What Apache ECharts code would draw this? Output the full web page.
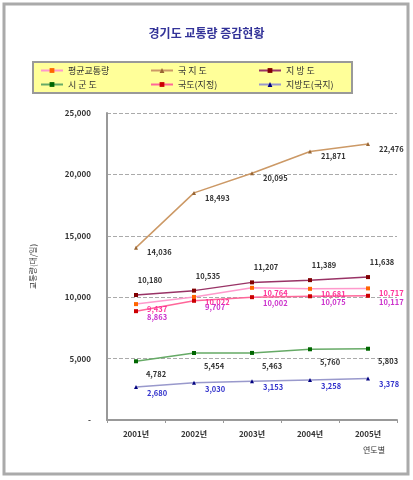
<!DOCTYPE html>
<html>
<head>
<meta charset="utf-8">
<script src="https://cdn.jsdelivr.net/npm/echarts@6/dist/echarts.min.js"></script>
<style>
  html, body { margin: 0; padding: 0; background: #fff; }
  #main { width: 413px; height: 480px; }
</style>
</head>
<body>
<div id="main"></div>
<script>
// 데이터
var years = ['2001년', '2002년', '2003년', '2004년', '2005년'];
var avgTraffic = [9437, 10022, 10764, 10681, 10717];   // 평균교통량
var gukjido = [14036, 18493, 20095, 21871, 22476];     // 국지도
var jibangdo = [10180, 10535, 11207, 11389, 11638];    // 지방도
var sigundo = [4782, 5454, 5463, 5760, 5803];          // 시군도
var gukdo = [8863, 9707, 10002, 10075, 10117];         // 국도(지정)
var jibangGukji = [2680, 3030, 3153, 3258, 3378];      // 지방도(국지)
var seriesNames = ['평균교통량', '국 지 도', '지 방 도', '시 군 도', '국도(지정)', '지방도(국지)'];

var font = '"Noto Sans CJK KR", "Noto Sans", sans-serif';
var myChart = echarts.init(document.getElementById('main'));

function fmt(v) {
  return v.toLocaleString('en-US');
}

function makeLine(name, data, lineColor, markColor, symbol, labelColor, labelPos, labelOffset) {
  return {
    name: name,
    type: 'line',
    data: data,
    symbol: symbol,
    symbolSize: 4,
    lineStyle: { color: lineColor, width: 1.5 },
    itemStyle: { color: markColor },
    label: {
      show: true,
      position: labelPos,
      offset: labelOffset,
      color: labelColor,
      fontSize: 7.5,
      fontFamily: font,
      fontWeight: 'bold',
      formatter: function (p) { return fmt(p.value); }
    }
  };
}

// 범례 위치 (3열 x 2행)
var legendPos = [[40, 66], [150, 66], [258, 66], [40, 80], [150, 80], [258, 80]];
var legends = seriesNames.map(function (n, i) {
  return {
    data: [n],
    left: legendPos[i][0],
    top: legendPos[i][1],
    itemWidth: 22,
    itemHeight: 6,
    padding: 0,
    selectedMode: false,
    textStyle: { fontSize: 9, fontFamily: font, color: '#333' }
  };
});

var option = {
  backgroundColor: '#fff',
  animation: false,
  title: {
    text: '경기도 교통량 증감현황',
    left: 'center',
    top: 22,
    textStyle: { color: '#333399', fontSize: 12, fontWeight: 'bold', fontFamily: font }
  },
  graphic: [
    { type: 'rect', shape: { x: 4, y: 4, width: 404, height: 470 },
      style: { fill: 'none', stroke: '#aaaaaa', lineWidth: 3 }, z: -10 },
    { type: 'rect', shape: { x: 33, y: 62, width: 319, height: 31 },
      style: { fill: '#ffff99', stroke: '#999999', lineWidth: 2 }, z: -5 }
  ],
  legend: legends,
  grid: { left: 107, right: 16, top: 113, bottom: 60 },
  xAxis: {
    type: 'category',
    data: years,
    boundaryGap: true,
    name: '연도별',
    nameLocation: 'end',
    nameGap: -12,
    nameTextStyle: {
      fontSize: 8, fontFamily: font, color: '#333',
      align: 'right', verticalAlign: 'top', padding: [26, 0, 0, 0]
    },
    axisLine: { lineStyle: { color: '#999', width: 2 } },
    axisTick: { show: true, length: 3, lineStyle: { color: '#999' } },
    axisLabel: { fontSize: 8, fontWeight: 'bold', fontFamily: font, color: '#333', margin: 10 }
  },
  yAxis: {
    type: 'value',
    min: 0,
    max: 25000,
    interval: 5000,
    name: '교통량(대/일)',
    nameLocation: 'middle',
    nameRotate: 90,
    nameGap: 70,
    nameTextStyle: { fontSize: 8, fontFamily: font, color: '#333' },
    axisLine: { show: true, lineStyle: { color: '#999', width: 2 } },
    axisTick: { show: false },
    splitLine: { show: true, lineStyle: { color: '#aaa', type: 'dashed' } },
    axisLabel: {
      fontSize: 8, fontWeight: 'bold', fontFamily: font, color: '#333', margin: 16,
      formatter: function (v) { return v === 0 ? '-' : fmt(v); }
    }
  },
  series: [
    makeLine(seriesNames[0], avgTraffic, '#ff99cc', '#ff6600', 'rect', '#ff3399', 'right', [4, 5]),
    makeLine(seriesNames[1], gukjido, '#cc9966', '#996633', 'triangle', '#333', 'right', [4, 5]),
    makeLine(seriesNames[2], jibangdo, '#993366', '#800000', 'rect', '#333', 'top', [14, -4]),
    makeLine(seriesNames[3], sigundo, '#66aa66', '#006600', 'rect', '#333', 'bottom', [20, 2]),
    makeLine(seriesNames[4], gukdo, '#ff6699', '#cc0000', 'rect', '#cc33cc', 'right', [4, 6]),
    makeLine(seriesNames[5], jibangGukji, '#9999cc', '#000080', 'triangle', '#3333cc', 'right', [4, 6])
  ]
};

myChart.setOption(option);
window.onresize = myChart.resize;
</script>
</body>
</html>
